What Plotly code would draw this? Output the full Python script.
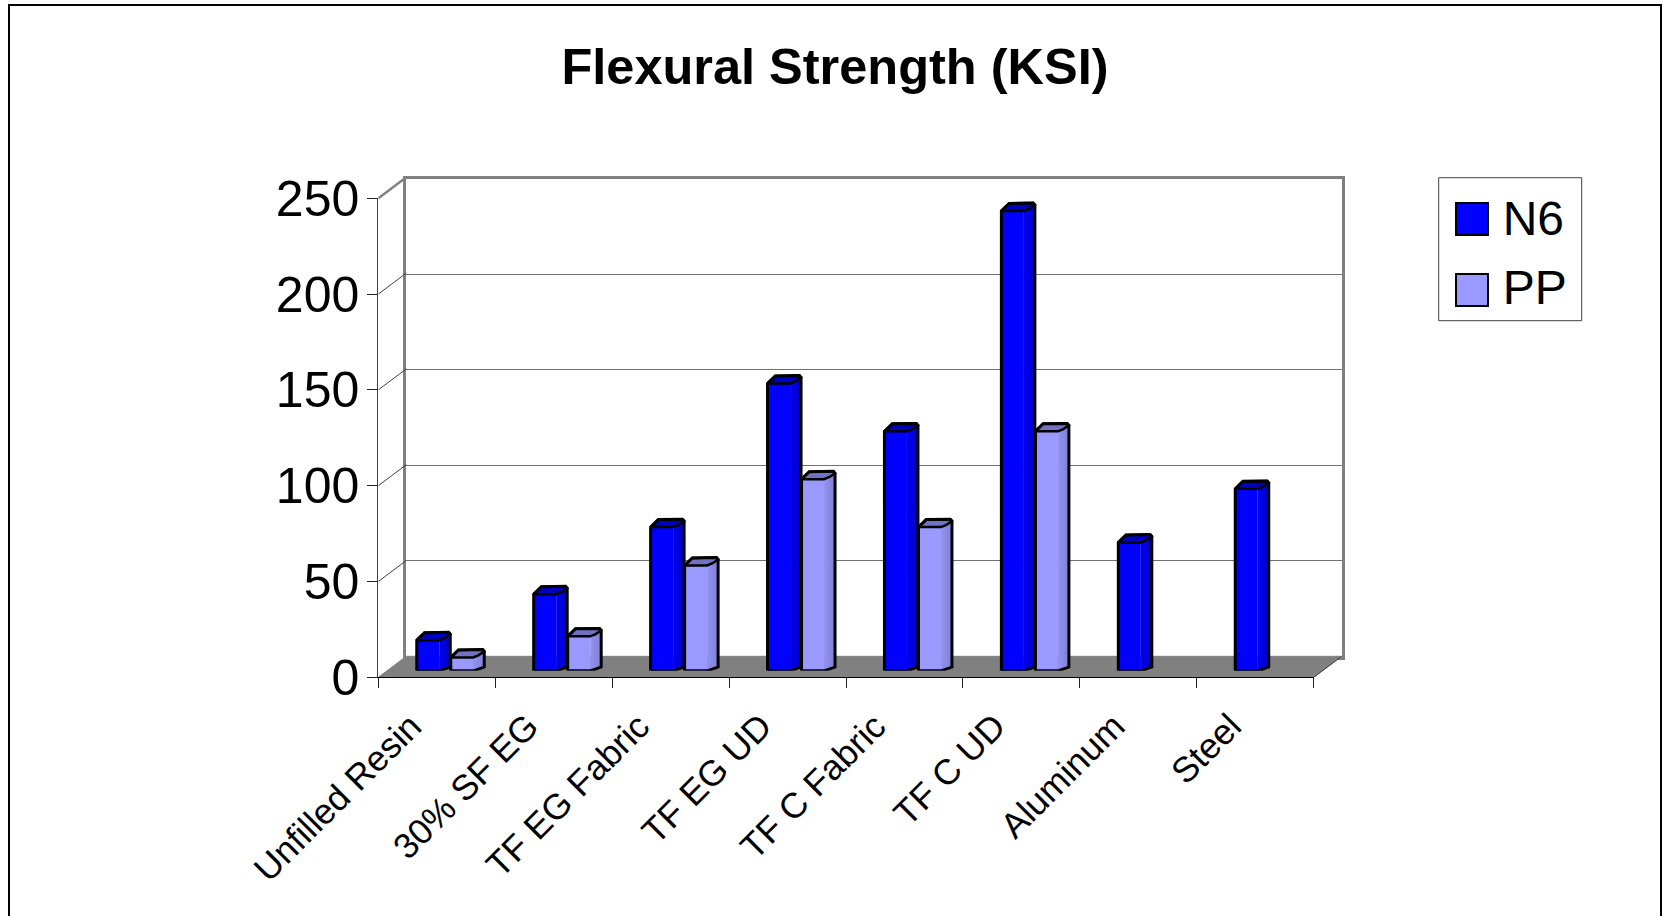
import plotly.graph_objects as go

categories = ["Unfilled Resin", "30% SF EG", "TF EG Fabric", "TF EG UD", "TF C Fabric", "TF C UD", "Aluminum", "Steel"]
n6_values = [16, 40, 75, 150, 125, 240, 67, 95]
pp_values = [7, 18, 55, 100, 75, 125, None, None]
value_ticks = [0, 50, 100, 150, 200, 250]

W, H = 1664, 916
L, R, B, T = 378.3, 1313.7, 677.3, 198.3        # front plane, pixels
WALL_DX, WALL_DY = 28.0, 21.0                   # wall offset, pixels
BAR_DX, BAR_DY = 14.0, 6.5                      # bar plane offset, pixels
PX_X = (R - L) / len(categories)
PX_Y = (B - T) / 250.0
BAR_W = 22.5 / PX_X
BAR_STEP = 34.0 / PX_X
DEPTH_X = 11.0 / PX_X
DEPTH_Y = 7.5 / PX_Y
GREY = "#808080"
LABEL_NUDGE = [0.28, 0.28, 0.23, 0.275, 0.25, 0.275, 0.295, 0.29]


def dx(a, b):
    return [a / W, b / W]


def dy(bottom, top):
    return [(H - bottom) / H, (H - top) / H]


hidden = dict(visible=False, showgrid=False, zeroline=False, fixedrange=True)
fig = go.Figure()
n = len(categories)

# back wall axis pair needs a trace to be drawn
fig.add_trace(go.Scatter(x=[None], y=[None], xaxis="x", yaxis="y", showlegend=False, hoverinfo="skip"))

# floor and side-wall diagonals share an axis pair extended to the back wall
extra_x = WALL_DX / PX_X
extra_y = WALL_DY / PX_Y
fig.add_trace(go.Scatter(
    x=[0, n, n + extra_x, extra_x, 0], y=[0, 0, extra_y, extra_y, 0],
    xaxis="x2", yaxis="y2", mode="lines", fill="toself", fillcolor=GREY,
    line=dict(color=GREY, width=1), showlegend=False, hoverinfo="skip"))
for v in value_ticks[1:]:
    fig.add_trace(go.Scatter(
        x=[0, extra_x], y=[v, v + extra_y], xaxis="x2", yaxis="y2", mode="lines",
        line=dict(color=GREY if v == 250 else "#404040", width=2.5 if v == 250 else 1),
        showlegend=False, hoverinfo="skip", cliponaxis=False))
fig.add_trace(go.Scatter(
    x=[n, n + extra_x], y=[0, extra_y], xaxis="x2", yaxis="y2", mode="lines",
    line=dict(color="#404040", width=1), showlegend=False, hoverinfo="skip", cliponaxis=False))


def add_series(name, values, offset, front, side_a, side_b, top):
    xs = [i + 0.5 + offset for i in range(n)]
    fig.add_trace(go.Bar(
        x=xs, y=values, width=BAR_W, offset=0, xaxis="x3", yaxis="y3", name=name,
        marker=dict(color=front, line=dict(width=0)),
        showlegend=False, cliponaxis=False))
    for x0, v in zip(xs, values):
        if v is None:
            continue
        x1 = x0 + BAR_W
        x2 = x1 + DEPTH_X
        # side face, shaded left to right
        fig.add_trace(go.Scatter(
            x=[x1, x2, x2, x1, x1],
            y=[0, DEPTH_Y * 0.5, v + DEPTH_Y, v, 0],
            xaxis="x3", yaxis="y3", mode="none", fill="toself",
            fillgradient=dict(type="horizontal", colorscale=[[0, side_a], [1, side_b]]),
            showlegend=False, hoverinfo="skip"))
        # top face
        fig.add_trace(go.Scatter(
            x=[x0, x0 + DEPTH_X * 0.7, x1 + DEPTH_X * 0.85, x2, x1 * 0.5 + x2 * 0.5, x1, x0],
            y=[v, v + DEPTH_Y, v + DEPTH_Y * 1.05, v + DEPTH_Y * 0.8, v + DEPTH_Y * 0.3, v, v],
            xaxis="x3", yaxis="y3", mode="lines", fill="toself", fillcolor=top,
            line=dict(color="black", width=2.5), showlegend=False, hoverinfo="skip"))
        # silhouette
        fig.add_trace(go.Scatter(
            x=[x0, x0, x0 + DEPTH_X * 0.7, x1 + DEPTH_X * 0.85, x2, x2, x1, x0],
            y=[0, v, v + DEPTH_Y, v + DEPTH_Y * 1.05, v + DEPTH_Y * 0.8, DEPTH_Y * 0.5, 0, 0],
            xaxis="x3", yaxis="y3", mode="lines",
            line=dict(color="black", width=3), showlegend=False, hoverinfo="skip"))
    # legend entry
    fig.add_trace(go.Bar(
        x=[None], y=[None], xaxis="x3", yaxis="y3", name=name, legendgroup=name,
        marker=dict(color=front, line=dict(width=0)), showlegend=True))


add_series("N6", n6_values, -BAR_STEP, "#0000FF", "#0000F0", "#0000C4", "#0000C0")
add_series("PP", pp_values, 0, "#9999FF", "#9292F2", "#8080D6", "#7272C4")

# the main axis pair carries the tick marks and labels
fig.add_trace(go.Scatter(x=[None], y=[None], xaxis="x4", yaxis="y4", showlegend=False, hoverinfo="skip"))

axis_font = dict(family="Liberation Sans, Arial, sans-serif", color="black")

fig.update_layout(
    width=W, height=H, autosize=False,
    margin=dict(l=0, r=0, t=0, b=0, pad=0, autoexpand=False),
    paper_bgcolor="white", plot_bgcolor="rgba(0,0,0,0)",
    barmode="overlay", hovermode=False,
    font=axis_font,
    title=dict(text="<b>Flexural Strength (KSI)</b>", x=835 / W, y=1 - 66 / H,
               xanchor="center", yanchor="middle",
               font=dict(size=50.5, family=axis_font["family"], color="black")),
    # back wall
    xaxis=dict(domain=dx(L + WALL_DX, R + WALL_DX), range=[0, n], anchor="y",
               showgrid=False, zeroline=False, showticklabels=False, ticks="",
               showline=True, mirror=True, linecolor=GREY, linewidth=2.5, fixedrange=True),
    yaxis=dict(domain=dy(656.5, 178.5), range=[0, 250], anchor="x",
               tickvals=value_ticks, showticklabels=False, ticks="",
               showgrid=True, gridcolor="#707070", gridwidth=1, zeroline=False,
               showline=True, mirror=True, linecolor=GREY, linewidth=2.5, fixedrange=True),
    # floor / diagonals
    xaxis2=dict(hidden, domain=dx(L, R + WALL_DX), range=[0, n + extra_x], anchor="y2"),
    yaxis2=dict(hidden, domain=dy(B, T - WALL_DY), range=[0, 250 + extra_y], anchor="x2"),
    # bars
    xaxis3=dict(hidden, domain=dx(L + BAR_DX, R + BAR_DX), range=[0, n], anchor="y3"),
    yaxis3=dict(hidden, domain=dy(B - BAR_DY, T - BAR_DY), range=[0, 250], anchor="x3"),
    # front axes
    xaxis4=dict(domain=dx(L, R), range=[0, n], anchor="y4",
                tickmode="array", tickvals=[i + LABEL_NUDGE[i] for i in range(n)], ticktext=categories,
                tickangle=-45, ticks="", ticklabelstandoff=13,
                tickfont=dict(size=35.5, color="black"),
                minor=dict(tickmode="array", tickvals=list(range(n + 1)), ticks="outside",
                           ticklen=10, tickcolor="#202020", tickwidth=1, showgrid=False),
                showgrid=False, zeroline=False, showline=True, linecolor="black", linewidth=1,
                fixedrange=True),
    yaxis4=dict(domain=dy(B, T), range=[0, 250], anchor="x4",
                tickmode="array", tickvals=value_ticks, ticks="outside", ticklen=10,
                tickcolor="#202020", tickwidth=1, ticklabelstandoff=-2,
                tickfont=dict(size=50, color="black"),
                showgrid=False, zeroline=False, showline=True, linecolor="#404040", linewidth=1,
                fixedrange=True),
    legend=dict(x=1439.7 / W, y=1 - 178.7 / H, xanchor="left", yanchor="top",
                bgcolor="rgba(0,0,0,0)", borderwidth=0,
                font=dict(size=48, color="black"), tracegroupgap=3.5, itemwidth=53),
    shapes=[
        dict(type="rect", xref="paper", yref="paper", x0=9 / W, x1=1661 / W, y0=-0.05, y1=1 - 5 / H,
             line=dict(color="black", width=2), fillcolor="rgba(0,0,0,0)", layer="below"),
        dict(type="rect", xref="paper", yref="paper", x0=1438.7 / W, x1=1581.7 / W,
             y0=1 - 320.7 / H, y1=1 - 177.7 / H, line=dict(color="#404040", width=1),
             fillcolor="white", layer="below"),
        dict(type="rect", xref="paper", yref="paper", x0=1456 / W, x1=1488 / W,
             y0=1 - 235 / H, y1=1 - 203 / H, line=dict(color="black", width=2),
             fillcolor="#0000FF", layer="above"),
        dict(type="rect", xref="paper", yref="paper", x0=1456 / W, x1=1488 / W,
             y0=1 - 306 / H, y1=1 - 274 / H, line=dict(color="black", width=2),
             fillcolor="#9999FF", layer="above"),
    ],
)

fig.write_html("out.html", config=dict(displayModeBar=False),
               post_script="document.body.style.margin='0';document.body.style.overflow='hidden';")
